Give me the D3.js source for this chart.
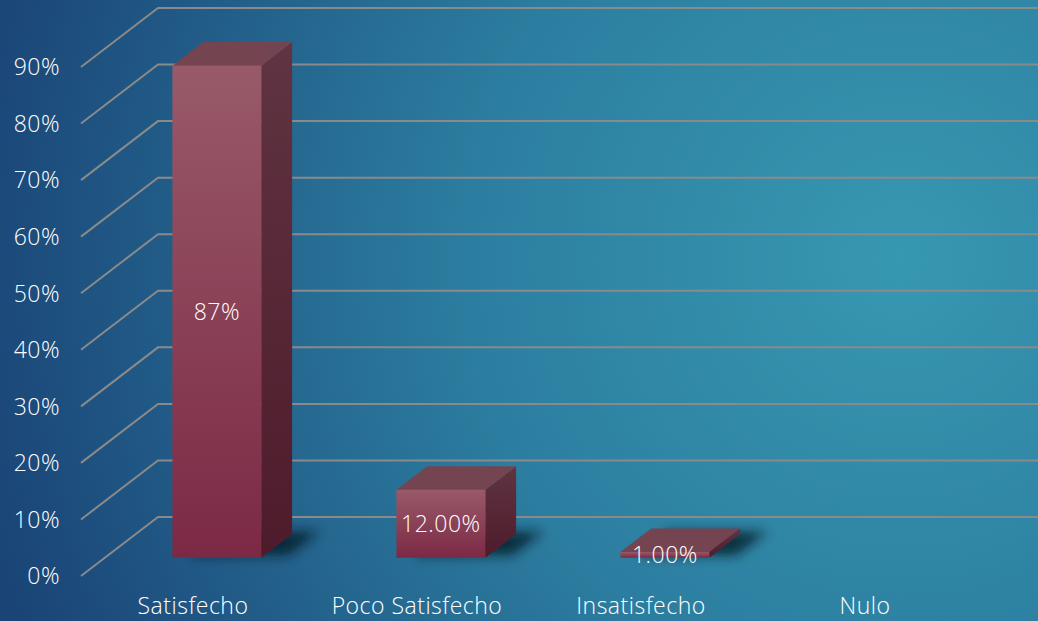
<!DOCTYPE html>
<html lang="es">
<head>
<meta charset="UTF-8">
<title>Satisfacción</title>
<script src="https://d3js.org/d3.v7.min.js"></script>
<style>
    html, body { margin: 0; padding: 0; overflow: hidden; }
    svg { display: block; }
    text { font-family: "Open Sans", Lato, sans-serif; font-weight: 300; fill: #fff; font-size: 23px; letter-spacing: 0.5px; }
</style>
</head>
<body>
<div id="chart"></div>
<script>
    var categories = ["Satisfecho", "Poco Satisfecho", "Insatisfecho", "Nulo"];
    var values = [87, 12, 1, 0];
    var valueLabels = ["87%", "12.00%", "1.00%", ""];
    var ticks = [0, 10, 20, 30, 40, 50, 60, 70, 80, 90];

    var width = 1038, height = 621;
    // depth of the 3d box (full floor depth) and where bars sit in it
    var depthX = 77, depthY = -59;
    var zFront = 0.31, zBack = 0.71;

    var svg = d3.select("#chart").append("svg")
        .attr("width", width)
        .attr("height", height);

    var defs = svg.append("defs");

    var bg = defs.append("radialGradient")
        .attr("id", "bg")
        .attr("gradientUnits", "userSpaceOnUse")
        .attr("cx", 900).attr("cy", 260).attr("r", 950);
    bg.append("stop").attr("offset", "0%").attr("stop-color", "#3798b1");
    bg.append("stop").attr("offset", "45%").attr("stop-color", "#2c7ea0");
    bg.append("stop").attr("offset", "100%").attr("stop-color", "#1a4476");

    function vGrad(id, top, bottom) {
        var g = defs.append("linearGradient").attr("id", id)
            .attr("x1", 0).attr("y1", 0).attr("x2", 0).attr("y2", 1);
        g.append("stop").attr("offset", "0%").attr("stop-color", top);
        g.append("stop").attr("offset", "100%").attr("stop-color", bottom);
    }
    vGrad("front", "#985a69", "#7c2945");
    vGrad("side", "#603442", "#4e1b2b");

    defs.append("filter").attr("id", "blur")
        .attr("x", "-50%").attr("y", "-50%").attr("width", "200%").attr("height", "200%")
        .append("feGaussianBlur").attr("stdDeviation", 6);

    svg.append("rect")
        .attr("width", width).attr("height", height)
        .attr("fill", "url(#bg)");

    var x = d3.scaleBand()
        .domain(categories)
        .range([81, 977]);

    var y = d3.scaleLinear()
        .domain([0, 90])
        .range([576, 67]);

    function proj(px, v, z) {
        return [px + depthX * z, y(v) + depthY * z];
    }

    // gridlines: slanted side wall + horizontal back wall
    var grid = svg.append("g");
    grid.selectAll("path")
        .data(ticks)
        .enter().append("path")
        .attr("fill", "none")
        .attr("stroke", "#8a8a8a")
        .attr("stroke-width", 2)
        .attr("d", function(t) {
            var a = proj(x.range()[0], t, 0), b = proj(x.range()[0], t, 1);
            return "M" + a + "L" + b + "L" + width + "," + b[1];
        });

    svg.append("g").selectAll("text")
        .data(ticks)
        .enter().append("text")
        .attr("x", 60)
        .attr("y", function(t) { return y(t); })
        .attr("dy", "0.36em")
        .attr("text-anchor", "end")
        .text(function(t) { return t + "%"; });

    var barW = x.bandwidth() * 0.397;

    var bars = svg.append("g").selectAll("g")
        .data(categories.map(function(c, i) { return {name: c, value: values[i], label: valueLabels[i]}; }))
        .enter().append("g")
        .filter(function(d) { return d.value > 0; });

    function poly(pts) { return "M" + pts.join("L") + "Z"; }

    bars.each(function(d) {
        var g = d3.select(this);
        var x0 = x(d.name) + x.bandwidth() / 2 - barW / 2, x1 = x0 + barW;
        // shadow on the floor
        var s0 = proj(x0 + 14, 0, zFront + 0.04), s1 = proj(x1 + 24, 0, zFront + 0.04),
            s2 = proj(x1 + 24, 0, zBack + 0.04), s3 = proj(x0 + 14, 0, zBack + 0.04);
        g.append("path")
            .attr("d", poly([s0, s1, s2, s3]))
            .attr("fill", "#06121e")
            .attr("opacity", 0.75)
            .attr("filter", "url(#blur)");
        // side face
        g.append("path")
            .attr("d", poly([proj(x1, 0, zFront), proj(x1, 0, zBack), proj(x1, d.value, zBack), proj(x1, d.value, zFront)]))
            .attr("fill", "url(#side)");
        // top face
        g.append("path")
            .attr("d", poly([proj(x0, d.value, zFront), proj(x1, d.value, zFront), proj(x1, d.value, zBack), proj(x0, d.value, zBack)]))
            .attr("fill", "#744550");
        // front face
        var f0 = proj(x0, d.value, zFront), f1 = proj(x1, 0, zFront);
        g.append("rect")
            .attr("x", f0[0]).attr("y", f0[1])
            .attr("width", f1[0] - f0[0])
            .attr("height", Math.max(f1[1] - f0[1], 1))
            .attr("fill", "url(#front)");
        // value label in the middle of the front face
        g.append("text")
            .attr("x", (f0[0] + f1[0]) / 2)
            .attr("y", (f0[1] + f1[1]) / 2)
            .attr("dy", "0.36em")
            .attr("text-anchor", "middle")
            .text(d.label);
    });

    svg.append("g").selectAll("text")
        .data(categories)
        .enter().append("text")
        .attr("x", function(c) { return x(c) + x.bandwidth() / 2; })
        .attr("y", 614)
        .attr("text-anchor", "middle")
        .text(function(c) { return c; });
</script>
</body>
</html>
